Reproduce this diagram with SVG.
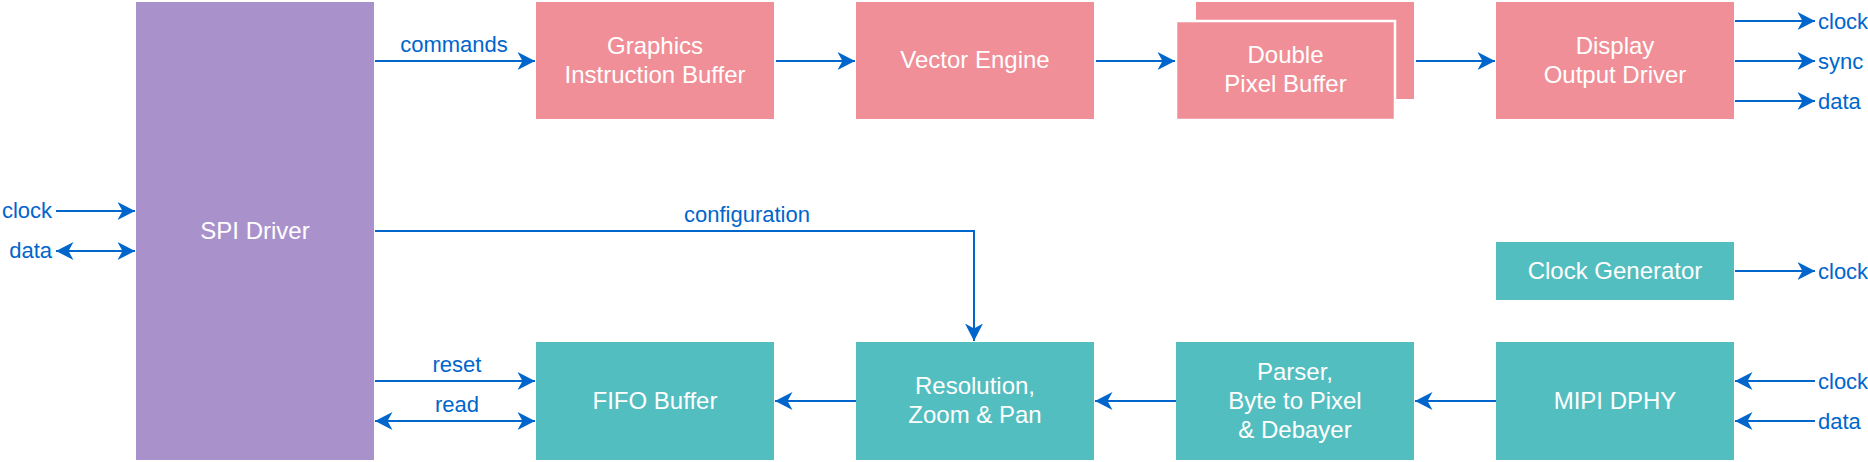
<svg xmlns="http://www.w3.org/2000/svg" width="1868" height="462" viewBox="0 0 1868 462">
<style>
.pink{fill:#F08F97}
.teal{fill:#52BEC0}
.purple{fill:#A992CC}
.nt{font-family:"Liberation Sans",Arial,Helvetica,sans-serif;font-size:24px;fill:#FFFFFF;text-anchor:middle}
.et{font-family:"Liberation Sans",Arial,Helvetica,sans-serif;font-size:22px;fill:#0066CC}
.c{text-anchor:middle}
.e{text-anchor:end}
.ln{fill:none;stroke:#0066CC;stroke-width:2}
.a{marker-end:url(#arr)}
.b{marker-start:url(#arr);marker-end:url(#arr)}
</style>
<defs>
<marker id="arr" markerUnits="userSpaceOnUse" markerWidth="18" markerHeight="19" viewBox="0 0 18 19" refX="17.5" refY="9.5" orient="auto-start-reverse">
<path d="M0,0.5 L17.5,9.5 L0,18.5 L5,9.5 Z" fill="#0066CC"/>
</marker>
</defs>
<rect width="1868" height="462" fill="#FFFFFF"/>

<g id="spi">
<rect class="purple" x="136" y="2" width="238" height="458"/>
<text class="nt" x="255" y="238.5">SPI Driver</text>
</g>
<g id="gib">
<rect class="pink" x="536" y="2" width="238" height="117"/>
<text class="nt" x="655" y="53.5">Graphics</text>
<text class="nt" x="655" y="82.5">Instruction Buffer</text>
</g>
<g id="vector">
<rect class="pink" x="856" y="2" width="238" height="117"/>
<text class="nt" x="975" y="68">Vector Engine</text>
</g>
<g id="dpb">
<rect class="pink" x="1196" y="2" width="218" height="97"/>
<rect class="pink" x="1176" y="21" width="219" height="99" stroke="#FFFFFF" stroke-width="2.5"/>
<text class="nt" x="1285.5" y="63">Double</text>
<text class="nt" x="1285.5" y="92">Pixel Buffer</text>
</g>
<g id="dod">
<rect class="pink" x="1496" y="2" width="238" height="117"/>
<text class="nt" x="1615" y="53.5">Display</text>
<text class="nt" x="1615" y="82.5">Output Driver</text>
</g>
<g id="clockgen">
<rect class="teal" x="1496" y="242" width="238" height="58"/>
<text class="nt" x="1615" y="279">Clock Generator</text>
</g>
<g id="fifo">
<rect class="teal" x="536" y="342" width="238" height="118"/>
<text class="nt" x="655" y="408.5">FIFO Buffer</text>
</g>
<g id="rzp">
<rect class="teal" x="856" y="342" width="238" height="118"/>
<text class="nt" x="975" y="394">Resolution,</text>
<text class="nt" x="975" y="423">Zoom &amp; Pan</text>
</g>
<g id="parser">
<rect class="teal" x="1176" y="342" width="238" height="118"/>
<text class="nt" x="1295" y="379.5">Parser,</text>
<text class="nt" x="1295" y="408.5">Byte to Pixel</text>
<text class="nt" x="1295" y="437.5">&amp; Debayer</text>
</g>
<g id="mipi">
<rect class="teal" x="1496" y="342" width="238" height="118"/>
<text class="nt" x="1615" y="408.5">MIPI DPHY</text>
</g>

<g id="connectors">
<path class="ln a" d="M56,211 L135,211"/>
<path class="ln b" d="M56,251 L135,251"/>
<path class="ln a" d="M375,61 L535,61"/>
<path class="ln a" d="M776,61 L855,61"/>
<path class="ln a" d="M1096,61 L1175,61"/>
<path class="ln a" d="M1416,61 L1495,61"/>
<path class="ln a" d="M1735,21 L1815,21"/>
<path class="ln a" d="M1735,61 L1815,61"/>
<path class="ln a" d="M1735,101 L1815,101"/>
<path class="ln a" d="M1735,271 L1815,271"/>
<path class="ln a" d="M375,231 L974,231 L974,341"/>
<path class="ln a" d="M375,381 L535,381"/>
<path class="ln b" d="M375,421 L535,421"/>
<path class="ln a" d="M856,401 L775,401"/>
<path class="ln a" d="M1176,401 L1095,401"/>
<path class="ln a" d="M1496,401 L1415,401"/>
<path class="ln a" d="M1815,381 L1735,381"/>
<path class="ln a" d="M1815,421 L1735,421"/>
</g>

<g id="labels">
<text class="et e" x="52" y="218">clock</text>
<text class="et e" x="52" y="258">data</text>
<text class="et c" x="454" y="52">commands</text>
<text class="et c" x="747" y="222">configuration</text>
<text class="et c" x="457" y="372">reset</text>
<text class="et c" x="457" y="412">read</text>
<text class="et" x="1818" y="29">clock</text>
<text class="et" x="1818" y="69">sync</text>
<text class="et" x="1818" y="109">data</text>
<text class="et" x="1818" y="279">clock</text>
<text class="et" x="1818" y="389">clock</text>
<text class="et" x="1818" y="429">data</text>
</g>
</svg>
